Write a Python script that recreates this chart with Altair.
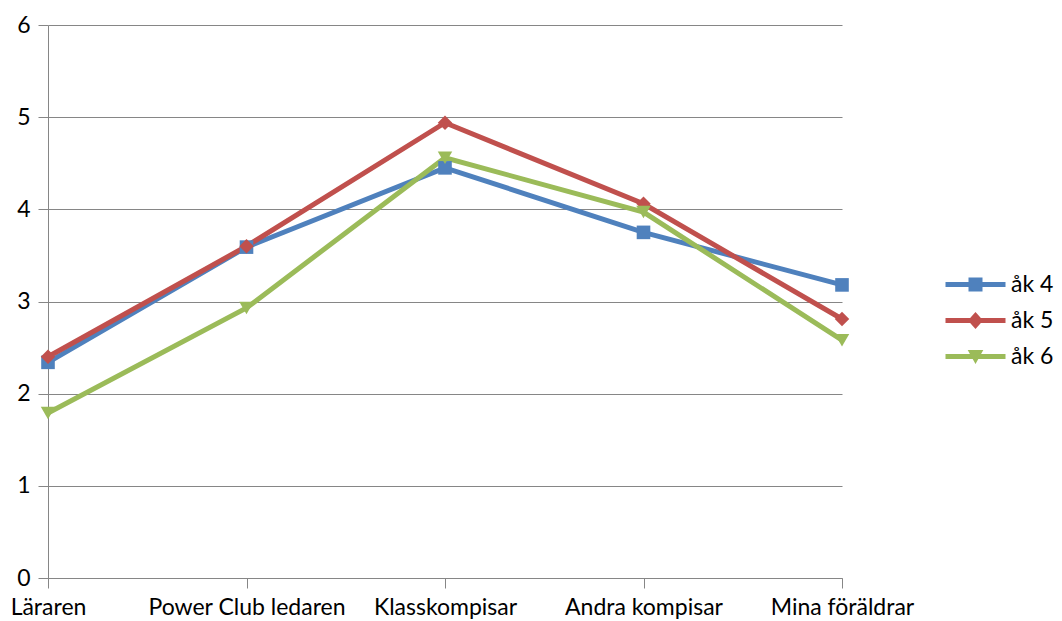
import altair as alt
import pandas as pd

categories = ["Läraren", "Power Club ledaren", "Klasskompisar", "Andra kompisar", "Mina föräldrar"]
series = ["åk 4", "åk 5", "åk 6"]
ak4 = [2.34, 3.59, 4.45, 3.75, 3.18]
ak5 = [2.40, 3.60, 4.94, 4.06, 2.81]
ak6 = [1.79, 2.93, 4.56, 3.97, 2.58]
colors = ["#4F81BD", "#C0504D", "#9BBB59"]
markers = ["square", "diamond", "triangle-down"]
marker_sizes = [185, 210, 210]
y_ticks = [0, 1, 2, 3, 4, 5, 6]

# legend symbols: line + marker (custom paths)
legend_paths = [
    "M-7.5,-0.6H7.5V0.6H-7.5Z M-1.75,-1.75H1.75V1.75H-1.75Z",
    "M-7.5,-0.6H7.5V0.6H-7.5Z M0,-2.1L1.9,0L0,2.1L-1.9,0Z",
    "M-7.5,-0.6H7.5V0.6H-7.5Z M-1.95,-1.6L1.95,-1.6L0,1.9Z",
]

rows = []
for s, vals in zip(series, [ak4, ak5, ak6]):
    for c, v in zip(categories, vals):
        rows.append({"kategori": c, "serie": s, "värde": v})
df = pd.DataFrame(rows)

FONT = "Lato"
FS = 23
GRID = "#868686"

x_enc = alt.X("kategori:N", sort=categories,
              scale=alt.Scale(domain=categories, type="point", padding=0),
              axis=alt.Axis(title=None, labelAngle=0, labelFontSize=FS, labelFont=FONT,
                            labelColor="black", tickSize=10, tickColor=GRID, domainColor=GRID,
                            labelPadding=8, grid=False, labelLimit=0))
y_enc = alt.Y("värde:Q", scale=alt.Scale(domain=[0, 6], nice=False),
              axis=alt.Axis(title=None, values=y_ticks, labelFontSize=FS, labelFont=FONT,
                            labelColor="black", tickSize=10, tickColor=GRID, domainColor=GRID,
                            gridColor=GRID, labelPadding=8, format="d"))
color_scale = alt.Scale(domain=series, range=colors)

base = alt.Chart(df)

leg = alt.Legend(title=None, orient="none", legendX=916, legendY=248,
                 symbolSize=64, symbolStrokeWidth=0,
                 labelFontSize=FS, labelFont=FONT, labelColor="black", labelLimit=0,
                 labelOffset=24, symbolOffset=0, rowPadding=12, padding=0)

# invisible layer that only provides the legend (line + marker symbols)
legend_layer = base.mark_point(filled=True, opacity=1, strokeWidth=0).encode(
    x=x_enc, y=y_enc,
    size=alt.value(0),
    color=alt.Color("serie:N", scale=color_scale, legend=leg),
    shape=alt.Shape("serie:N", scale=alt.Scale(domain=series, range=legend_paths), legend=leg),
)

lines = base.mark_line(strokeWidth=5).encode(
    x=x_enc, y=y_enc,
    color=alt.Color("serie:N", scale=color_scale, legend=None),
)

point_layers = []
for s, col, m, sz in zip(series, colors, markers, marker_sizes):
    point_layers.append(
        base.transform_filter(alt.datum.serie == s).mark_point(
            filled=True, opacity=1, size=sz, shape=m, color=col, strokeWidth=0
        ).encode(x=x_enc, y=y_enc)
    )

chart = alt.layer(legend_layer, lines, *point_layers).properties(
    width=794, height=553,
    autosize=alt.AutoSizeParams(type="none"),
    padding={"left": 40, "top": 17, "right": 212, "bottom": 43},
).configure(background="white", view=alt.ViewConfig(stroke=None))

chart.save("out.html", embed_options={"renderer": "svg", "actions": False})
